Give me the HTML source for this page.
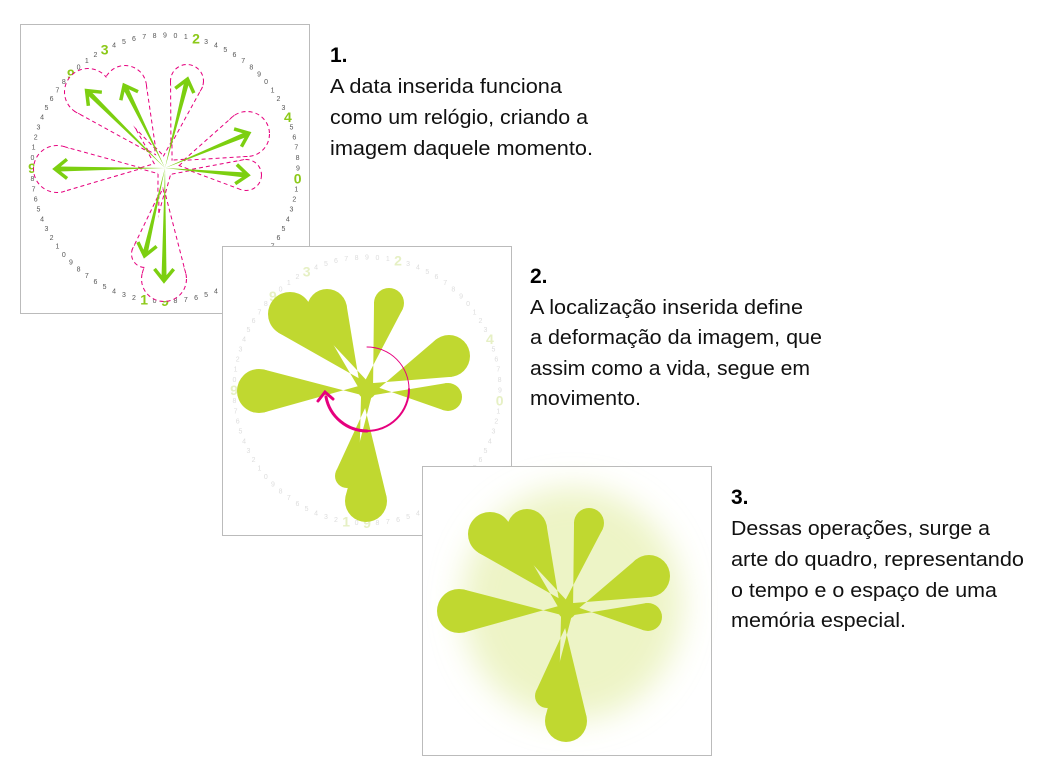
<!DOCTYPE html>
<html><head><meta charset="utf-8"><style>
html,body{margin:0;padding:0;background:#fff;}
svg{display:block;}
text{font-family:"Liberation Sans",sans-serif;}
.body{font-size:20px;fill:#111;}
.num{font-size:21px;font-weight:bold;fill:#000;}
</style></head><body>
<svg id="root" width="1042" height="782" viewBox="0 0 1042 782">
<defs>
<filter id="blur" x="-50%" y="-50%" width="200%" height="200%"><feGaussianBlur stdDeviation="16"/></filter>
</defs>
<g id="p1" transform="translate(20,24)">
  <rect x="0.5" y="0.5" width="289" height="289" fill="#fff" stroke="#bbb"/>
  <g id="ring1"></g><g id="outline1"></g><g id="arrows1"></g>
</g>
<g id="p2" transform="translate(222,246)">
  <rect x="0.5" y="0.5" width="289" height="289" fill="#fff" stroke="#bbb"/>
  <g id="ring2"></g><g id="flower2"></g>
  <g fill="none" stroke="#e6007e" stroke-linecap="round">
    <path d="M145,101 A42,42 0 0 1 187,143" stroke-width="1"/>
    <path d="M187,143 A42,42 0 0 1 145,185" stroke-width="2"/>
    <path d="M145,185 A42,42 0 0 1 104,151" stroke-width="3"/>
    <path d="M96,155 L103,146 L111,153" stroke-width="3"/>
  </g>
</g>
<g id="p3" transform="translate(422,466)">
  <rect x="0.5" y="0.5" width="289" height="289" fill="#fff" stroke="#bbb"/>
  <g filter="url(#blur)">
    <ellipse cx="150" cy="138" rx="110" ry="116" fill="#dce98e" opacity="0.5"/>
  </g>
  <g id="flower3"></g>
</g>
<g>
  <text class="num" x="330" y="62">1.</text>
  <text class="body" x="330" y="93" textLength="232" lengthAdjust="spacingAndGlyphs">A data inserida funciona</text>
  <text class="body" x="330" y="124" textLength="258" lengthAdjust="spacingAndGlyphs">como um relógio, criando a</text>
  <text class="body" x="330" y="155" textLength="263" lengthAdjust="spacingAndGlyphs">imagem daquele momento.</text>
</g>
<g>
  <text class="num" x="530" y="283">2.</text>
  <text class="body" x="530" y="314" textLength="273" lengthAdjust="spacingAndGlyphs">A localização inserida define</text>
  <text class="body" x="530" y="344" textLength="292" lengthAdjust="spacingAndGlyphs">a deformação da imagem, que</text>
  <text class="body" x="530" y="375" textLength="280" lengthAdjust="spacingAndGlyphs">assim como a vida, segue em</text>
  <text class="body" x="530" y="405" textLength="111" lengthAdjust="spacingAndGlyphs">movimento.</text>
</g>
<g>
  <text class="num" x="731" y="504">3.</text>
  <text class="body" x="731" y="535" textLength="259" lengthAdjust="spacingAndGlyphs">Dessas operações, surge a</text>
  <text class="body" x="731" y="566" textLength="293" lengthAdjust="spacingAndGlyphs">arte do quadro, representando</text>
  <text class="body" x="731" y="597" textLength="266" lengthAdjust="spacingAndGlyphs">o tempo e o espaço de uma</text>
  <text class="body" x="731" y="627" textLength="175" lengthAdjust="spacingAndGlyphs">memória especial.</text>
</g>
</svg>
<script>
// petal data (panel-relative tip circle centres and radii)
const petalX = [68, 105, 167, 227, 226, 37, 125, 144];
const petalY = [68, 63, 57, 110, 151, 145, 230, 255];
const petalR = [22, 20, 15, 21, 14, 22, 12, 21];
// clock ring data
const ringCount = 80;
const ringStartDigit = 9;
const highlightIdx = [3, 15, 21, 40, 42, 60, 70, 74];
const CX = 145, CY = 144, RING = 133;
const NS = 'http://www.w3.org/2000/svg';
function mk(tag, attrs, parent){const e=document.createElementNS(NS,tag);for(const k in attrs)e.setAttribute(k,attrs[k]);parent.appendChild(e);return e;}

function petalGeom(i, grow){
  grow=grow||0;
  const px=petalX[i], py=petalY[i], r=petalR[i]+grow;
  const dx=px-CX, dy=py-CY, d=Math.hypot(dx,dy);
  const phi=Math.atan2(-dy,-dx), beta=Math.acos(r/d);
  const t1=[px+r*Math.cos(phi+beta), py+r*Math.sin(phi+beta)];
  const t2=[px+r*Math.cos(phi-beta), py+r*Math.sin(phi-beta)];
  const hw=4.5+grow*0.5;
  const nx=-dy/d*hw, ny=dx/d*hw;
  const b=[CX+dx/d*7, CY+dy/d*7];
  return {px,py,r,t1,t2,c1:[b[0]+nx,b[1]+ny],c2:[b[0]-nx,b[1]-ny],dx,dy,d};
}
function drawFlower(g, fill, stroke, dash, grow, withCenter){
  if(withCenter){
    const cc=mk('circle',{cx:CX,cy:CY,r:9,fill:fill},g);
    
    
  }
  for(let i=0;i<petalX.length;i++){
    const p=petalGeom(i, grow);
    const pts=[p.c1,p.t1,p.t2,p.c2].map(q=>q.join(',')).join(' ');
    const a={fill:fill}; if(stroke){a.stroke=stroke;a['stroke-width']=2;a['stroke-dasharray']=dash;}
    const poly=mk('polygon',Object.assign({points:pts},a),g);
    
    
    const c=mk('circle',Object.assign({cx:p.px,cy:p.py,r:p.r},a),g);
    
    
  }
}
function drawRing(g, small, big){
  for(let i=0;i<ringCount;i++){
    const a=i*2*Math.PI/ringCount;
    const hl=highlightIdx.includes(i);
    const x=CX+RING*Math.sin(a), y=CY-RING*Math.cos(a);
    const t=mk('text',{x:x,y:y+(hl?5:2.5),'text-anchor':'middle','font-size':hl?14:7,'font-weight':hl?'bold':'normal',fill:hl?big:small},g);
    t.textContent=String((ringStartDigit+i)%10);
    
    
  }
}
// panel 1
drawRing(document.getElementById('ring1'),'#555','#8cc919');
const o1=document.getElementById('outline1');
const sg=mk('g',{},o1); drawFlower(sg,'none','#e6007e','4 3',1,false);
const wg=mk('g',{},o1);
drawFlower(wg,'#fff',null,null,1,true);
const ag=document.getElementById('arrows1');
for(let i=0;i<petalX.length;i++){
  const p=petalGeom(i);
  const ux=p.dx/p.d, uy=p.dy/p.d, nx=-uy, ny=ux;
  const tx=p.px+ux*2, ty=p.py+uy*2;
  const bx=tx-ux*4, by=ty-uy*4;
  const shaft=mk('polygon',{points:[CX+','+CY,(bx+nx*2.5)+','+(by+ny*2.5),tx+','+ty,(bx-nx*2.5)+','+(by-ny*2.5)].join(' '),fill:'#7ccf10'},ag);
  
  
  const h=12;
  const head=mk('polyline',{points:[(tx-ux*h+nx*h*0.8)+','+(ty-uy*h+ny*h*0.8),tx+','+ty,(tx-ux*h-nx*h*0.8)+','+(ty-uy*h-ny*h*0.8)].join(' '),fill:'none',stroke:'#7ccf10','stroke-width':3.5},ag);
  
  
}
// panel 2
drawRing(document.getElementById('ring2'),'#ddd','#e6f0c4');
drawFlower(document.getElementById('flower2'),'#c0d830',null,null,0,true);
// panel 3
drawFlower(document.getElementById('flower3'),'#c0d830',null,null,0,true);
</script>
</body></html>
